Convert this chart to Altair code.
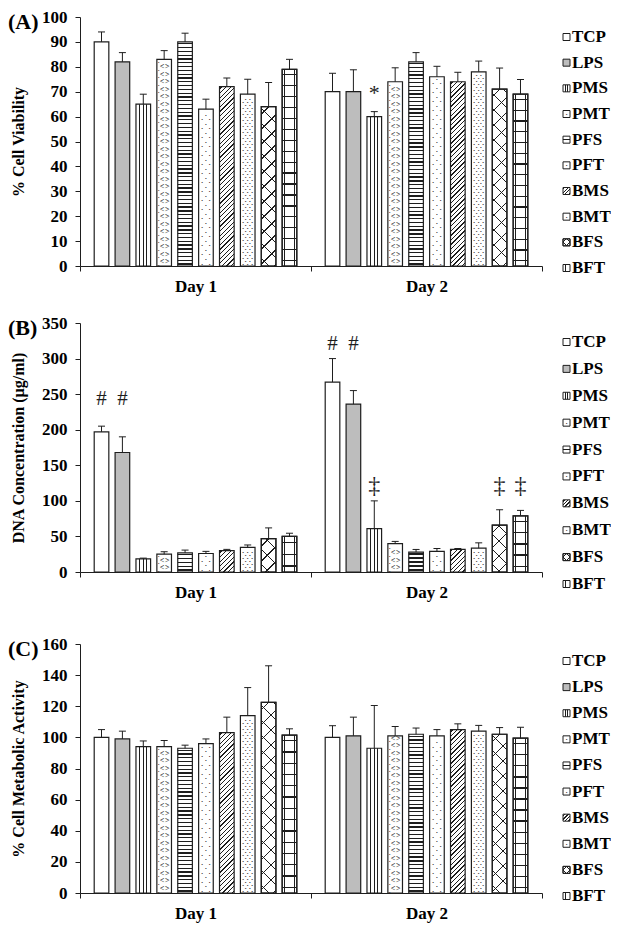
import altair as alt
import pandas as pd

# ---------------- data ----------------
series = ["TCP", "LPS", "PMS", "PMT", "PFS", "PFT", "BMS", "BMT", "BFS", "BFT"]
days = ["Day 1", "Day 2"]

viability_day1 = [90, 82, 65, 83, 90, 63, 72, 69, 64, 79]
viability_day1_sd = [4, 3.7, 4, 3.5, 3.5, 4, 3.5, 6, 9.7, 4]
viability_day2 = [70, 70, 60, 74, 82, 76, 74, 78, 71, 69]
viability_day2_sd = [7.4, 8.8, 2, 5.6, 3.7, 4.2, 3.8, 4.3, 8.5, 5.9]
viability_ticks = [0, 10, 20, 30, 40, 50, 60, 70, 80, 90, 100]

dna_day1 = [197, 168, 18.5, 25, 27, 26, 30, 34.5, 47, 50]
dna_day1_sd = [8, 22, 1, 3.5, 3.8, 3, 1.8, 3.5, 15, 4.5]
dna_day2 = [267, 236, 61, 40, 28, 29, 31.7, 33.5, 66, 79]
dna_day2_sd = [33, 19, 39, 3, 3.7, 4, 1.3, 7.5, 21.5, 7.6]
dna_ticks = [0, 50, 100, 150, 200, 250, 300, 350]

metabolic_day1 = [100, 99, 94, 94, 93, 96, 103, 114, 122.5, 101.5]
metabolic_day1_sd = [5, 5, 3.7, 4, 2, 3, 10, 18, 23.5, 4]
metabolic_day2 = [100, 101, 93, 101, 102, 101, 105, 104, 102, 99.5]
metabolic_day2_sd = [7.5, 12, 27.5, 6, 4, 4, 3.7, 3.7, 4.3, 7]
metabolic_ticks = [0, 20, 40, 60, 80, 100, 120, 140, 160]

viability_notes = [("Day 2", "PMS", "*", 69.5)]
dna_notes = [("Day 1", "TCP", "#", 243), ("Day 1", "LPS", "#", 243),
             ("Day 2", "TCP", "#", 321), ("Day 2", "LPS", "#", 321),
             ("Day 2", "PMS", "‡", 121), ("Day 2", "BFS", "‡", 121),
             ("Day 2", "BFT", "‡", 121)]
metabolic_notes = []

# ---------------- style ----------------
FONT = "Liberation Serif"
INK = "#1e1e1e"
GREY = "#bdbdbd"
WHITE = "#ffffff"
CLEAR = "rgba(255,255,255,0)"
NOTE_SIZE = {"#": 21, "*": 22, "‡": 24}

W, H = 462, 249
PAD_IN, PAD_OUT = 0.3, 0.68
STEP = (W / 2) / (len(series) - PAD_IN + 2 * PAD_OUT)
BW = STEP * (1 - PAD_IN)


def stops(centers, half, bg, fg):
    out = [{"offset": 0, "color": bg}]
    for c in centers:
        a = round(max(0.0, c - half), 5)
        b = round(min(1.0, c + half), 5)
        out += [{"offset": a, "color": bg}, {"offset": a, "color": fg},
                {"offset": b, "color": fg}, {"offset": b, "color": bg}]
    out.append({"offset": 1, "color": bg})
    return out


def lin(x1, y1, x2, y2, st):
    return {"gradient": "linear", "x1": x1, "y1": y1, "x2": x2, "y2": y2, "stops": st}


def vstripes(fracs, lw, w, bg, fg=INK):
    return lin(0, 0, 1, 0, stops(fracs, lw / 2 / w, bg, fg))


def hstripes(period, lw, h, bg, fg=INK):
    n = max(1, round(h / period))
    return lin(0, 0, 0, 1, stops([(k + 0.5) / n for k in range(n)], lw / 2 / h, bg, fg))


def diagonal(period, lw, w, h, bg, rising=True, fg=INK):
    L = w + h
    k = L / (w * w + h * h)
    centers = []
    c = period / 2
    while c < L:
        centers.append(c / L)
        c += period
    st = stops(centers, lw / 2 / L, bg, fg)
    if rising:
        return lin(0, 0, round(k * w, 5), round(k * h, 5), st)
    return lin(0, 1, round(k * w, 5), round(1 - k * h, 5), st)


def fills(s, w, h):
    if s == "LPS":
        return [GREY]
    if s == "PMS":
        return [vstripes([0.25, 0.5, 0.75], 1.0, w, WHITE)]
    if s == "PFS":
        return [hstripes(3.8, 1.3, h, WHITE)]
    if s == "BMS":
        return [diagonal(4.6, 1.3, w, h, WHITE)]
    if s == "BFS":
        return [diagonal(15, 1.4, w, h, WHITE), diagonal(15, 1.4, w, h, CLEAR, rising=False)]
    if s == "BFT":
        return [hstripes(11, 1.3, h, WHITE), vstripes([0.14, 0.86], 1.4, w, CLEAR)]
    return [WHITE]


def legend_fills(s):
    if s == "LPS":
        return [GREY]
    if s == "PMS":
        return [vstripes([0.36, 0.64], 1.0, 7, WHITE)]
    if s == "PFS":
        return [hstripes(7, 1.0, 7, WHITE)]
    if s == "BMS":
        return [diagonal(3.5, 1.3, 7, 7, WHITE)]
    if s == "BFS":
        return [diagonal(7, 1.1, 7, 7, WHITE), diagonal(7, 1.1, 7, 7, CLEAR, rising=False)]
    if s == "BFT":
        return [vstripes([0.32], 1.0, 7, WHITE)]
    return [WHITE]


def panel(tag, ytitle, ymax, ticks, d1, e1, d2, e2, notes):
    rows = []
    for day, vals, sds in ((days[0], d1, e1), (days[1], d2, e2)):
        for s, v, e in zip(series, vals, sds):
            rows.append({"day": day, "series": s, "value": v, "top": v + e})
    df = pd.DataFrame(rows)
    ppu = H / ymax

    x = alt.X("day:N", title=None,
              scale=alt.Scale(domain=days, paddingInner=0, paddingOuter=0),
              axis=alt.Axis(tickBand="extent", tickSize=5, labelPadding=7, labelAngle=0,
                            domainColor=INK, tickColor=INK, grid=False))
    xo = alt.XOffset("series:N",
                     scale=alt.Scale(domain=series, paddingInner=PAD_IN, paddingOuter=PAD_OUT))
    yaxis = alt.Axis(values=ticks, tickSize=5, labelPadding=8, titlePadding=15,
                     domainColor=INK, tickColor=INK, grid=False)

    def y(field):
        return alt.Y(f"{field}:Q", title=ytitle,
                     scale=alt.Scale(domain=[0, ymax], nice=False, zero=True), axis=yaxis)

    base = alt.Chart(df)
    layers = []
    for s in series:
        for day in days:
            v = float(df[(df.series == s) & (df.day == day)].value.iloc[0])
            for f in fills(s, BW, v * ppu):
                layers.append(
                    base.transform_filter((alt.datum.series == s) & (alt.datum.day == day))
                    .mark_bar(fill=f, stroke=INK, strokeWidth=1.2)
                    .encode(x=x, xOffset=xo, y=y("value"))
                )

    def texture(s, glyph, period, phase, dxs, size, weight="normal"):
        expr = f"sequence({phase / ppu:.4f}, datum.value - {2 / ppu:.4f}, {period / ppu:.4f})"
        src = (base.transform_filter(alt.datum.series == s)
               .transform_calculate(row=expr).transform_flatten(["row"]))
        return [src.mark_text(text=glyph, dx=dx, fontSize=size, font=FONT, color=INK,
                              fontWeight=weight, baseline="middle", align="center")
                .encode(x=x, xOffset=xo, y=y("row")) for dx in dxs]

    layers += texture("PFT", "•", 9, 2.5, [-3.8, 3.8], 5)
    layers += texture("PFT", "•", 9, 7, [0], 5)
    layers += texture("BMT", "•", 6, 2, [-4.5, 0, 4.5], 5)
    layers += texture("BMT", "•", 6, 5, [-2.2, 2.2], 5)
    layers += texture("PMT", "<", 7.5, 4, [-2.2], 8, "bold")
    layers += texture("PMT", ">", 7.5, 4, [3.2], 8, "bold")
    layers += texture("PMT", "•", 7.5, 0.5, [-5.4], 4)

    layers.append(base.mark_rule(color=INK, strokeWidth=1)
                  .encode(x=x, xOffset=xo, y=y("value"), y2="top:Q"))
    layers.append(base.mark_tick(color=INK, thickness=1, size=7, opacity=1)
                  .encode(x=x, xOffset=xo, y=y("top")))

    if notes:
        ndf = pd.DataFrame(notes, columns=["day", "series", "label", "pos"])
        for g in ndf.label.unique():
            layers.append(
                alt.Chart(ndf[ndf.label == g])
                .mark_text(font=FONT, fontSize=NOTE_SIZE[g], color=INK,
                           baseline="middle", align="center")
                .encode(x=x, xOffset=xo, y=y("pos"), text="label:N")
            )

    layers.append(
        alt.Chart(pd.DataFrame({"tag": [tag]}))
        .mark_text(align="left", baseline="middle", font=FONT, fontSize=22,
                   fontWeight="bold", color="black")
        .encode(x=alt.value(-72), y=alt.value(5), text="tag:N")
    )
    return alt.layer(*layers).properties(width=W, height=H)


def legend(span):
    ldf = pd.DataFrame({"series": series})
    ly = alt.Y("series:N", axis=None,
               scale=alt.Scale(type="point", domain=series, range=list(span), padding=0))
    lb = alt.Chart(ldf)
    layers = []
    for s in series:
        for f in legend_fills(s):
            layers.append(
                lb.transform_filter(alt.datum.series == s)
                .mark_square(size=49, fill=f, stroke=INK, strokeWidth=1, opacity=1)
                .encode(x=alt.value(3.5), y=ly)
            )
    layers.append(
        lb.transform_filter(alt.FieldOneOfPredicate(field="series", oneOf=["PFT", "BMT", "PMT"]))
        .mark_text(text="•", fontSize=5, font=FONT, color=INK, baseline="middle", align="center")
        .encode(x=alt.value(3.5), y=ly)
    )
    layers.append(
        lb.mark_text(align="left", baseline="middle", font=FONT, fontSize=17,
                     fontWeight="bold", color="black")
        .encode(x=alt.value(9), y=ly, text="series:N")
    )
    return alt.layer(*layers).properties(width=40, height=H)


row_a = alt.hconcat(
    panel("(A)", "% Cell Viability", 100, viability_ticks,
          viability_day1, viability_day1_sd, viability_day2, viability_day2_sd, viability_notes),
    legend((20, H + 2)), spacing=21, bounds="flush")
row_b = alt.hconcat(
    panel("(B)", "DNA Concentration (µg/ml)", 350, dna_ticks,
          dna_day1, dna_day1_sd, dna_day2, dna_day2_sd, dna_notes),
    legend((19, H + 12)), spacing=21, bounds="flush")
row_c = alt.hconcat(
    panel("(C)", "% Cell Metabolic Activity", 160, metabolic_ticks,
          metabolic_day1, metabolic_day1_sd, metabolic_day2, metabolic_day2_sd, metabolic_notes),
    legend((17, H + 3)), spacing=21, bounds="flush")

chart = (
    alt.vconcat(alt.vconcat(row_a, row_b, spacing=20), row_c, spacing=35)
    .properties(padding={"left": 0, "top": 0, "right": 0, "bottom": 14})
    .configure_view(stroke=None)
    .configure_axis(labelFont=FONT, titleFont=FONT, labelFontSize=17, titleFontSize=16,
                    labelFontWeight="bold", titleFontWeight="bold",
                    labelColor="black", titleColor="black")
)

chart.save("out.html", embed_options={"renderer": "svg", "actions": False})
